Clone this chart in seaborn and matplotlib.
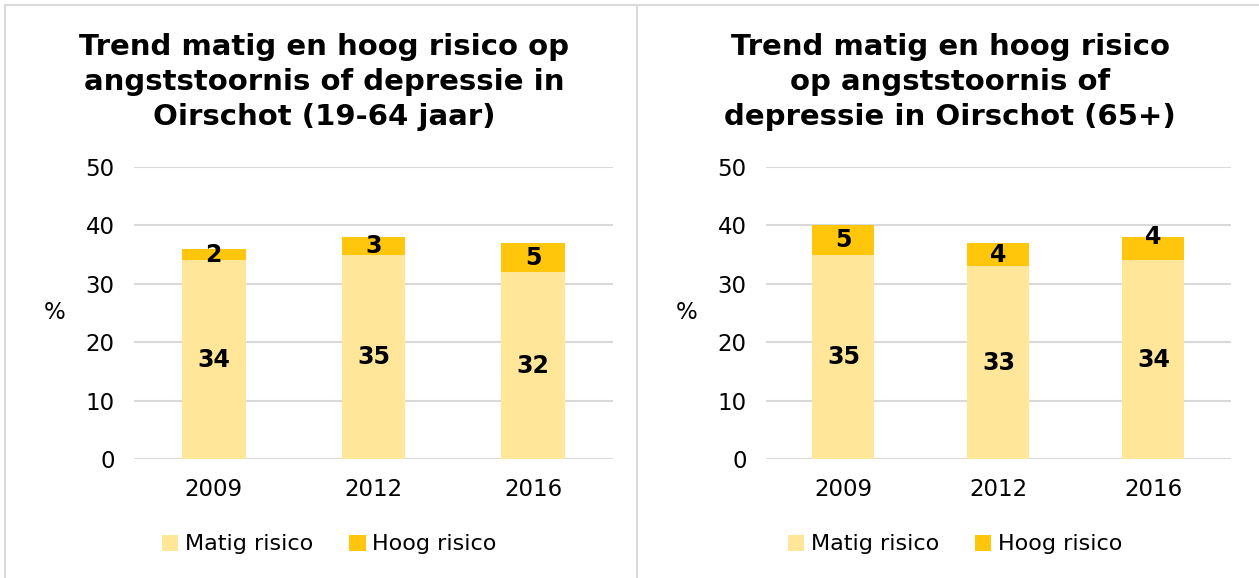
import pandas as pd
import seaborn as sns
import numpy as np
import matplotlib.pyplot as plt
from matplotlib.patches import Patch
from matplotlib.lines import Line2D

# data
years = ["2009", "2012", "2016"]
matig_1964 = [34, 35, 32]
hoog_1964 = [2, 3, 5]
matig_65 = [35, 33, 34]
hoog_65 = [5, 4, 4]

titles = ["Trend matig en hoog risico op\nangststoornis of depressie in\nOirschot (19-64 jaar)",
          "Trend matig en hoog risico\nop angststoornis of\ndepressie in Oirschot (65+)"]
legend_labels = ["Matig risico", "Hoog risico"]

light = "#FFE699"
dark = "#FFC60B"
grid = "#D9D9D9"

sns.set_style("white")
plt.rcParams['font.family'] = ['DejaVu Sans']
plt.rcParams['text.color'] = 'black'
plt.rcParams['axes.labelcolor'] = 'black'

fig = plt.figure(figsize=(12.59, 5.78), dpi=100)

# axes placed to match the reference layout
ax1 = fig.add_axes([0.1064, 0.2059, 0.3805, 0.5052])
ax2 = fig.add_axes([0.6084, 0.2059, 0.3693, 0.5052])

panels = [(ax1, matig_1964, hoog_1964, 0.2575), (ax2, matig_65, hoog_65, 0.7546)]

for i, (ax, matig, hoog, cx) in enumerate(panels):
    df = pd.DataFrame({"jaar": years, "matig": matig, "hoog": hoog})
    df["totaal"] = df["matig"] + df["hoog"]

    # total bar in dark, matig bar drawn over it in light -> stacked look
    sns.barplot(ax=ax, data=df, x="jaar", y="totaal", color=dark, width=0.4,
                saturation=1, edgecolor="none", zorder=2)
    sns.barplot(ax=ax, data=df, x="jaar", y="matig", color=light, width=0.4,
                saturation=1, edgecolor="none", zorder=3)

    ax.set_ylim(0, 50)
    ax.set_xlim(-0.5, 2.5)
    ax.set_yticks(np.arange(0, 51, 10))
    ax.yaxis.grid(True, color=grid, linewidth=1.5, zorder=0)
    ax.set_axisbelow(True)
    for s in ax.spines.values():
        s.set_visible(False)
    ax.tick_params(axis="both", labelsize=16.5, length=0, colors="black")
    ax.tick_params(axis="x", pad=14)
    ax.tick_params(axis="y", pad=14)
    ax.set_xlabel("")
    ax.set_ylabel("%", fontsize=16.5, rotation=0, labelpad=22, va="center")

    # value labels
    for j in range(len(years)):
        ax.text(j, matig[j] / 2, str(matig[j]), ha="center", va="center",
                fontsize=17, fontweight="bold", zorder=5)
        yh = matig[j] + hoog[j] / 2
        if i == 1 and j == 2:
            yh = matig[j] + hoog[j]
        ax.text(j, yh, str(hoog[j]), ha="center", va="center",
                fontsize=17, fontweight="bold", zorder=5)

    fig.text(cx, 0.858, titles[i], ha="center", va="center", fontsize=21,
             fontweight="bold", linespacing=1.33)

    handles = [Patch(facecolor=light, edgecolor="none"),
               Patch(facecolor=dark, edgecolor="none")]
    fig.legend(handles, legend_labels, loc="center", bbox_to_anchor=(cx + 0.004, 0.058),
               ncol=2, frameon=False, fontsize=16, handlelength=0.75, handleheight=0.75,
               handletextpad=0.3, columnspacing=1.6)

# panel borders
fig.add_artist(Line2D([5 / 1259, 1], [1 - 5 / 578, 1 - 5 / 578], color=grid, lw=1.5))
fig.add_artist(Line2D([5 / 1259, 5 / 1259], [0, 1 - 5 / 578], color=grid, lw=1.5))
fig.add_artist(Line2D([637 / 1259, 637 / 1259], [0, 1 - 5 / 578], color=grid, lw=1.5))

fig.savefig("out.png", dpi=100)
